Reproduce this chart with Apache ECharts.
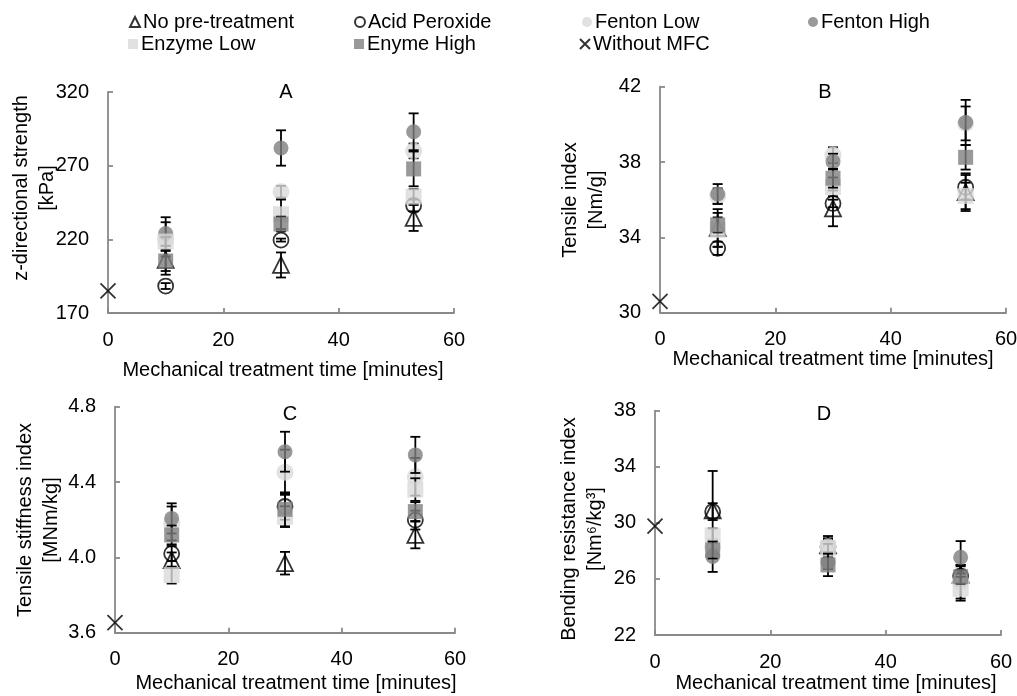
<!DOCTYPE html>
<html><head><meta charset="utf-8">
<script src="https://cdn.jsdelivr.net/npm/echarts@6/dist/echarts.min.js"></script>
<style>html,body{margin:0;padding:0;background:#fff}#c{width:1017px;height:696px}</style>
</head><body><div id="c"></div>
<script>
// ---------- data ----------
const seriesNames = ['No pre-treatment', 'Acid Peroxide', 'Fenton Low', 'Fenton High', 'Enzyme Low', 'Enyme High'];
const withoutName = 'Without MFC';
const times = [10, 30, 53];           // mechanical treatment time [minutes]
const xTicks = [0, 20, 40, 60];

// Panel A: z-directional strength [kPa]; rows follow seriesNames
const zValues = [
  [206, 202.6, 234.5],
  [188.3, 219.5, 243],
  [220, 252.3, 280],
  [224, 282, 293],
  [218.5, 237, 249],
  [205.3, 230.4, 267.8]
];
const zErrors = [
  [10, 8.5, 8.8],
  [2, 1, 4],
  [11.6, 4, 5],
  [11, 12, 12.5],
  [3, 10, 5],
  [6.8, 5, 11.8]
];
const zWithout = 185;
const zTicks = [170, 220, 270, 320];

// Panel B: tensile index [Nm/g]
const tValues = [
  [34.5, 35.54, 36.4],
  [33.42, 35.8, 36.66],
  [36.2, 38.37, 40.05],
  [36.3, 38.02, 40.1],
  [34.4, 36.68, 36.2],
  [34.66, 37.14, 38.25]
];
const tErrors = [
  [1.0, 0.95, 1.0],
  [0.35, 0.2, 0.65],
  [0.4, 0.41, 0.9],
  [0.53, 0.42, 1.2],
  [0.9, 0.5, 0.7],
  [0.4, 0.5, 0.65]
];
const tWithout = 30.6;
const tTicks = [30, 34, 38, 42];

// Panel C: tensile stiffness index [MNm/kg]
const sValues = [
  [3.986, 3.969, 4.119],
  [4.02, 4.27, 4.198],
  [4.18, 4.452, 4.428],
  [4.207, 4.561, 4.544],
  [3.906, 4.216, 4.36],
  [4.119, 4.255, 4.243]
];
const sErrors = [
  [0.04, 0.06, 0.071],
  [0.04, 0.07, 0.05],
  [0.09, 0.12, 0.1],
  [0.08, 0.106, 0.096],
  [0.045, 0.055, 0.06],
  [0.05, 0.09, 0.05]
];
const sWithout = 3.653;
const sTicks = [3.6, 4.0, 4.4, 4.8];

// Panel D: bending resistance index [Nm6/kg3]
const bValues = [
  [30.9, 28.4, 26.3],
  [30.8, 28.3, 26.2],
  [28.3, 28.3, 25.8],
  [27.6, 27.2, 27.54],
  [29.1, 28.2, 25.3],
  [28.06, 27.0, 26.16]
];
const bErrors = [
  [2.8, 0.5, 0.7],
  [0.6, 0.5, 0.7],
  [0.5, 0.76, 1.2],
  [1.1, 0.5, 1.16],
  [0.5, 0.3, 0.85],
  [0.6, 0.8, 0.5]
];
const bWithout = 29.77;
const bTicks = [22, 26, 30, 34, 38];

// ---------- styles ----------
const FONT = "'Liberation Sans', Arial, Helvetica, sans-serif";
const AXIS_GREY = '#898989';
const LIGHT = '#d9d9d9';
const DARK = '#808080';
const markerStyles = [
  { symbol: 'triangle', symbolSize: 16, itemStyle: { color: 'rgba(0,0,0,0)', borderColor: '#000', borderWidth: 1.8 } },
  { symbol: 'circle', symbolSize: 15, itemStyle: { color: 'rgba(0,0,0,0)', borderColor: '#000', borderWidth: 1.8 } },
  { symbol: 'circle', symbolSize: 17, itemStyle: { color: LIGHT } },
  { symbol: 'circle', symbolSize: 15, itemStyle: { color: DARK } },
  { symbol: 'rect', symbolSize: 16, itemStyle: { color: LIGHT } },
  { symbol: 'rect', symbolSize: 15, itemStyle: { color: DARK } }
];
const xMarker = { symbol: 'path://M0,0L10,10M10,0L0,10', symbolSize: 15, itemStyle: { color: 'rgba(0,0,0,0)', borderColor: '#000', borderWidth: 1.8 } };

const panels = [
  { values: zValues, errors: zErrors, without: zWithout, ticks: zTicks, dec: 0,
    grid: { left: 108, top: 92, width: 346, height: 221 } },
  { values: tValues, errors: tErrors, without: tWithout, ticks: tTicks, dec: 0,
    grid: { left: 660, top: 86.7, width: 346, height: 226 } },
  { values: sValues, errors: sErrors, without: sWithout, ticks: sTicks, dec: 1,
    grid: { left: 115, top: 406.7, width: 340, height: 226 } },
  { values: bValues, errors: bErrors, without: bWithout, ticks: bTicks, dec: 0,
    grid: { left: 655, top: 410.7, width: 346, height: 224.3 } }
];

const grids = [], xAxes = [], yAxes = [], series = [];
panels.forEach((p, k) => {
  grids.push(Object.assign({ containLabel: false, outerBoundsMode: 'none' }, p.grid));
  const axisCommon = {
    axisLine: { show: true, lineStyle: { color: AXIS_GREY, width: 1.8 } },
    axisTick: { show: true, inside: true, length: 5, lineStyle: { color: AXIS_GREY, width: 1.8 } },
    splitLine: { show: false },
    axisLabel: { color: '#000', fontSize: 20, fontFamily: FONT }
  };
  xAxes.push(Object.assign({}, axisCommon, {
    type: 'value', gridIndex: k, min: xTicks[0], max: xTicks[xTicks.length - 1],
    interval: xTicks[1] - xTicks[0],
    axisLabel: Object.assign({}, axisCommon.axisLabel, { margin: 17 })
  }));
  const dec = p.dec;
  yAxes.push(Object.assign({}, axisCommon, {
    type: 'value', gridIndex: k, min: p.ticks[0], max: p.ticks[p.ticks.length - 1],
    interval: p.ticks[1] - p.ticks[0],
    axisLabel: Object.assign({}, axisCommon.axisLabel, { margin: 19, formatter: v => Number(v).toFixed(dec) })
  }));
  seriesNames.forEach((name, i) => {
    series.push({
      type: 'custom', name: name + ' error', xAxisIndex: k, yAxisIndex: k, z: 2 + 2 * i, silent: true,
      data: times.map((t, j) => [t, p.values[i][j] - p.errors[i][j], p.values[i][j] + p.errors[i][j]]),
      encode: { x: 0, y: [1, 2] },
      renderItem: (params, api) => {
        const lo = api.coord([api.value(0), api.value(1)]);
        const hi = api.coord([api.value(0), api.value(2)]);
        const hw = 5;
        const st = { stroke: '#000', lineWidth: 1.8 };
        return { type: 'group', children: [
          { type: 'line', shape: { x1: lo[0], y1: lo[1], x2: hi[0], y2: hi[1] }, style: st },
          { type: 'line', shape: { x1: lo[0] - hw, y1: lo[1], x2: lo[0] + hw, y2: lo[1] }, style: st },
          { type: 'line', shape: { x1: hi[0] - hw, y1: hi[1], x2: hi[0] + hw, y2: hi[1] }, style: st }
        ] };
      }
    });
    series.push(Object.assign({
      type: 'scatter', name: name, xAxisIndex: k, yAxisIndex: k, z: 3 + 2 * i, clip: false,
      data: times.map((t, j) => [t, p.values[i][j]])
    }, markerStyles[i]));
  });
  series.push(Object.assign({
    type: 'scatter', name: withoutName, xAxisIndex: k, yAxisIndex: k, z: 20, clip: false,
    data: [[0, p.without]]
  }, xMarker));
});

const legendPos = [
  [129, 12], [354, 12], [582, 12], [808, 12],
  [128, 34], [354, 34], [579, 34]
];
const legendNames = seriesNames.concat([withoutName]);
const legends = legendNames.map((n, i) => ({
  data: [n], left: legendPos[i][0], top: legendPos[i][1], padding: 0,
  itemWidth: 10, itemHeight: 10, itemGap: 0, selectedMode: false,
  textStyle: { color: '#000', fontSize: 20, fontFamily: FONT, padding: [0, 0, 0, -2] }
}));

function txt(x, y, text, rot) {
  return { type: 'text', x: x, y: y, rotation: rot || 0, silent: true,
    style: { text: text, fill: '#000', font: '20px ' + FONT, align: 'center', verticalAlign: 'middle', lineHeight: 26 } };
}
const xTitle = 'Mechanical treatment time [minutes]';
const graphics = [
  txt(286, 92, 'A'), txt(825, 92, 'B'), txt(290, 414, 'C'), txt(824, 414, 'D'),
  txt(283, 370, xTitle), txt(833, 359, xTitle), txt(296, 683, xTitle), txt(836, 683, xTitle),
  txt(34, 188, 'z-directional strength\n[kPa]', Math.PI / 2),
  txt(583, 200, 'Tensile index\n[Nm/g]', Math.PI / 2),
  txt(38.5, 520, 'Tensile stiffness index\n[MNm/kg]', Math.PI / 2),
  txt(582.5, 529, 'Bending resistance index\n[Nm\u2076/kg\u00b3]', Math.PI / 2)
];

const chart = echarts.init(document.getElementById('c'), null, { renderer: 'canvas' });
chart.setOption({
  animation: false,
  backgroundColor: '#fff',
  textStyle: { fontFamily: FONT },
  legend: legends,
  grid: grids,
  xAxis: xAxes,
  yAxis: yAxes,
  series: series,
  graphic: graphics
});
</script></body></html>
